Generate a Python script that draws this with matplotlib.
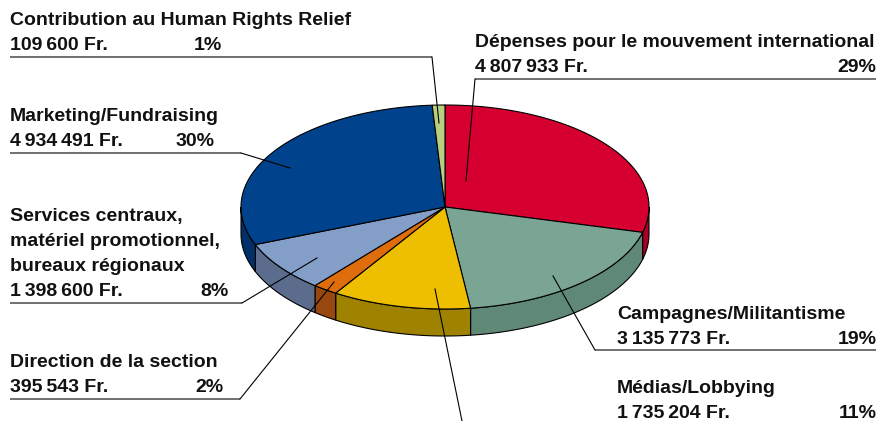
import numpy as np
import matplotlib
matplotlib.use("Agg")
import matplotlib.pyplot as plt
from matplotlib.patches import Polygon
from matplotlib import font_manager

# Budget split, slices listed clockwise from 12 o'clock
names = [
    ["Dépenses pour le mouvement international"],
    ["Campagnes/Militantisme"],
    ["Médias/Lobbying"],
    ["Direction de la section"],
    ["Services centraux,", "matériel promotionnel,", "bureaux régionaux"],
    ["Marketing/Fundraising"],
    ["Contribution au Human Rights Relief"],
]
amounts = [4807933, 3135773, 1735204, 395543, 1398600, 4934491, 109600]  # Fr.
shares = [29, 19, 11, 2, 8, 30, 1]  # % as printed (slices are drawn from these)
top_colors = ["#D5002F", "#7AA494", "#EEBF00", "#E06D0C", "#849FC7", "#00428C", "#B7CF7F"]
side_colors = ["#A80026", "#5F8877", "#9E8200", "#98480E", "#5B6C8C", "#002F6A", "#8FA560"]

# label layout in pixels (x, first baseline, right edge of %)
label_x = [475, 617, 617, 10, 10, 10, 10]
label_y = [47, 319, 393, 367, 221, 121, 25]
pct_x = [876, 877, 877, 223, 229, 215, 222]
underlines = [(475, 876, 79), (595, 876, 350), None, (10, 240, 399),
              (10, 242, 303), (10, 241, 153), (10, 432, 57)]
leaders = [
    [(475, 79), (466, 181)],
    [(595, 350), (553, 276)],
    [(462, 421), (435, 289)],
    [(240, 399), (334, 282)],
    [(242, 303), (317, 258)],
    [(241, 153), (290, 168)],
    [(432, 57), (439, 123)],
]

W, H = 881, 421
cx, cy, rx, ry, depth = 445, 207, 204, 102, 27
line_gap = 25

available = {f.name for f in font_manager.fontManager.ttflist}
family = "Liberation Sans Narrow" if "Liberation Sans Narrow" in available else "Liberation Sans"
plt.rcParams["font.family"] = [family, "DejaVu Sans"]

fig = plt.figure(figsize=(W / 100, H / 100), dpi=100)
ax = fig.add_axes([0, 0, 1, 1])
ax.set_xlim(0, W)
ax.set_ylim(H, 0)
ax.axis("off")

vals = np.array(shares, dtype=float)
frac = vals / vals.sum()
edges = np.concatenate([[0], np.cumsum(frac)]) * 2 * np.pi


def rim(t, dz=0.0):
    return cx + rx * np.sin(t), cy - ry * np.cos(t) + dz


# side walls (front half only)
for i in range(len(vals)):
    a = max(edges[i], np.pi / 2)
    b = min(edges[i + 1], 3 * np.pi / 2)
    if a >= b:
        continue
    t = np.linspace(a, b, 120)
    x1, y1 = rim(t)
    x2, y2 = rim(t[::-1], depth)
    pts = np.column_stack([np.concatenate([x1, x2]), np.concatenate([y1, y2])])
    ax.add_patch(Polygon(pts, closed=True, facecolor=side_colors[i],
                         edgecolor="black", linewidth=0.8, zorder=1))

# top faces
for i in range(len(vals)):
    t = np.linspace(edges[i], edges[i + 1], 200)
    x, y = rim(t)
    pts = np.column_stack([np.concatenate([[cx], x]), np.concatenate([[cy], y])])
    ax.add_patch(Polygon(pts, closed=True, facecolor=top_colors[i],
                         edgecolor="black", linewidth=0.8, zorder=2))

# labels
fs = 14
for i in range(len(vals)):
    y = label_y[i]
    for line in names[i]:
        ax.text(label_x[i], y, line, fontsize=fs, fontweight="bold",
                color="#111111", ha="left", va="baseline", zorder=4)
        y += line_gap
    amt = f"{amounts[i]:,}".replace(",", "\u2009") + " Fr."
    ax.text(label_x[i], y, amt, fontsize=fs, fontweight="bold",
            color="#111111", ha="left", va="baseline", zorder=4)
    ax.text(pct_x[i], y, f"{shares[i]}%", fontsize=fs,
            fontweight="bold", color="#111111", ha="right", va="baseline", zorder=4)
    if underlines[i] is not None:
        x0, x1, yu = underlines[i]
        ax.plot([x0, x1], [yu, yu], color="#707070", linewidth=1.4,
                solid_capstyle="butt", zorder=3)
    lx, ly = zip(*leaders[i])
    ax.plot(lx, ly, color="black", linewidth=0.8, zorder=3)

fig.savefig("out.png", dpi=100)
